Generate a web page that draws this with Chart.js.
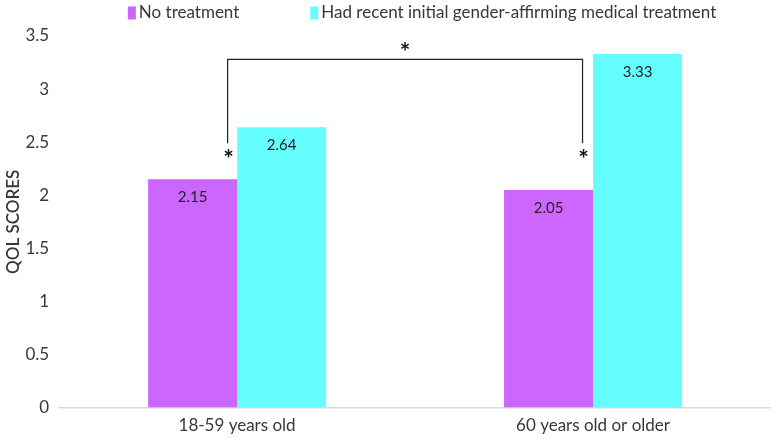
<!DOCTYPE html>
<html><head><meta charset="utf-8">
<script src="https://cdn.jsdelivr.net/npm/chart.js@4/dist/chart.umd.min.js"></script>
<style>html,body{margin:0;padding:0;background:#fff}#wrap{width:771px;height:439px}</style>
</head><body><div id="wrap"><canvas id="c" width="771" height="439"></canvas></div>
<script>
const categories = ['18-59 years old', '60 years old or older'];
const seriesNames = ['No treatment', 'Had recent initial gender-affirming medical treatment'];
const noTreatment = [2.15, 2.05];
const hadTreatment = [2.64, 3.33];
const noTreatmentLabels = ['2.15', '2.05'];
const hadTreatmentLabels = ['2.64', '3.33'];
const yTicks = [0, 0.5, 1, 1.5, 2, 2.5, 3, 3.5];
// significance bracket levels (in QOL score units)
const bracketTopLevel = 3.28;
const bracketBottomLevel = 2.49;
const sideStarLevel = 2.39;
const topStarLevel = 3.40;

const FONT = 'Lato, "Open Sans", sans-serif';
const TEXT = '#383838';
const colors = ['#CC66FF', '#66FFFF'];

const overlay = {
  id: 'overlay',
  afterDatasetsDraw(chart) {
    const ctx = chart.ctx;
    const y = chart.scales.y;
    const labelSets = [noTreatmentLabels, hadTreatmentLabels];
    ctx.save();
    ctx.fillStyle = '#222';
    ctx.font = '15px ' + FONT;
    ctx.textAlign = 'center';
    ctx.textBaseline = 'middle';
    chart.data.datasets.forEach((ds, di) => {
      chart.getDatasetMeta(di).data.forEach((bar, i) => {
        ctx.fillText(labelSets[di][i], bar.x, bar.y + 18);
      });
    });
    // bracket
    const cyan = chart.getDatasetMeta(1).data;
    const lx = cyan[0].x - cyan[0].width / 2 - 9.5;
    const rx = cyan[1].x - cyan[1].width / 2 - 10.5;
    const ty = y.getPixelForValue(bracketTopLevel);
    const by = y.getPixelForValue(bracketBottomLevel);
    ctx.strokeStyle = '#222';
    ctx.lineWidth = 1.2;
    ctx.beginPath();
    ctx.moveTo(lx, by); ctx.lineTo(lx, ty); ctx.lineTo(rx, ty); ctx.lineTo(rx, by);
    ctx.stroke();
    ctx.fillStyle = '#111';
    ctx.font = 'bold 25px ' + FONT;
    const sy = y.getPixelForValue(sideStarLevel);
    ctx.fillText('*', lx + 1, sy + 6);
    ctx.fillText('*', rx + 1, sy + 6);
    ctx.fillText('*', (lx + rx) / 2, y.getPixelForValue(topStarLevel) + 6);
    ctx.restore();
  },
  afterDraw(chart) {
    // legend
    const ctx = chart.ctx;
    ctx.save();
    ctx.font = '17px ' + FONT;
    ctx.textBaseline = 'middle';
    ctx.textAlign = 'left';
    const boxW = 8, boxH = 13, boxGap = 3, itemGap = 71;
    const items = chart.data.datasets.map(d => ({label: d.label, color: d.backgroundColor, w: ctx.measureText(d.label).width}));
    let total = 0;
    items.forEach((it, i) => { total += boxW + boxGap + it.w + (i ? itemGap : 0); });
    const ca = chart.chartArea;
    let cx = (ca.left + ca.right) / 2 + 7 - total / 2;
    const cy = 13;
    items.forEach((it) => {
      ctx.fillStyle = it.color;
      ctx.fillRect(cx, cy - boxH / 2, boxW, boxH);
      cx += boxW + boxGap;
      ctx.fillStyle = TEXT;
      ctx.fillText(it.label, cx, cy);
      cx += it.w + itemGap;
    });
    ctx.restore();
  }
};

new Chart(document.getElementById('c'), {
  type: 'bar',
  data: {
    labels: categories,
    datasets: [
      { label: seriesNames[0], data: noTreatment, backgroundColor: colors[0] },
      { label: seriesNames[1], data: hadTreatment, backgroundColor: colors[1] }
    ]
  },
  options: {
    responsive: false,
    devicePixelRatio: 1,
    animation: false,
    layout: { padding: { top: 36, right: -3, left: 3, bottom: -5 } },
    datasets: { bar: { categoryPercentage: 0.5, barPercentage: 1.0 } },
    plugins: { legend: { display: false }, tooltip: { enabled: false } },
    scales: {
      x: {
        grid: { display: true, drawOnChartArea: false, drawTicks: false, color: 'rgba(0,0,0,0)' },
        border: { display: true, color: '#d9d9d9', width: 1.5 },
        ticks: { color: TEXT, font: { family: FONT, size: 17 }, padding: 8 }
      },
      y: {
        min: 0, max: 3.5,
        afterBuildTicks: (axis) => { axis.ticks = yTicks.map(v => ({ value: v })); },
        grid: { display: false },
        border: { display: false },
        ticks: { color: TEXT, font: { family: FONT, size: 17 }, padding: 2, callback: (v) => String(v) },
        title: { display: true, text: 'QOL SCORES', color: TEXT, font: { family: FONT, size: 17, weight: '600' }, padding: { top: 0, bottom: 0 } }
      }
    }
  },
  plugins: [overlay]
});
</script>
</body></html>
